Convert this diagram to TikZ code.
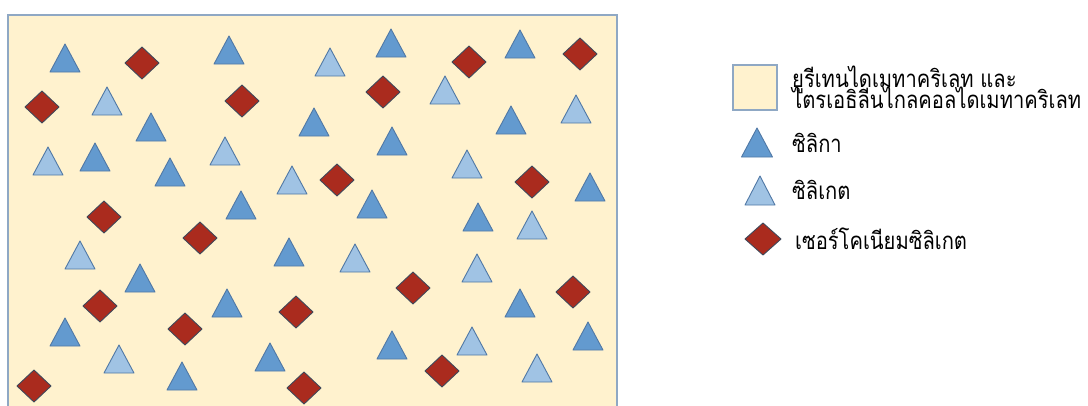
\documentclass[tikz,border=0pt]{standalone}
\usepackage{fontspec}
\newfontfamily\thaifont[Script=Thai, FakeStretch=0.84]{Loma}
\newcommand\legendfont{\thaifont\fontsize{24}{21}\selectfont\lineskiplimit=-30pt\relax}
\definecolor{matrixfill}{RGB}{255,242,206}
\definecolor{matrixline}{RGB}{143,168,196}
\definecolor{silicafill}{RGB}{99,154,207}
\definecolor{silicateline}{RGB}{80,120,165}
\definecolor{silicatefill}{RGB}{160,195,228}
\definecolor{zirconfill}{RGB}{170,43,30}
\definecolor{zirconline}{RGB}{62,72,90}
\begin{document}
\begin{tikzpicture}[x=1pt, y=-1pt,
    matrixbox/.style={draw=matrixline, line width=2pt, fill=matrixfill},
    silica/.style={draw=silicateline, line width=0.9pt, fill=silicafill, line join=round},
    silicate/.style={draw=silicateline, line width=0.9pt, fill=silicatefill, line join=round},
    zircon/.style={draw=zirconline, line width=0.9pt, fill=zirconfill, line join=round},
    legendtext/.style={anchor=west, inner sep=0pt, align=left, font=\legendfont}]
    \useasboundingbox (0,0) rectangle (1088,405);

    \draw[matrixbox] (8,15) rectangle (617,410);

    \foreach \x/\y in {65/44, 229/36, 151/113, 95/143, 170/158, 314/108, 391/29, 520/30,
        392/127, 511/106, 590/173, 241/191, 372/190, 478/203, 289/238, 140/264,
        227/289, 65/318, 182/362, 270/343, 520/289, 392/331, 588/322}
        \draw[silica] (\x,\y) -- (\x+15,\y+28) -- (\x-15,\y+28) -- cycle;

    \foreach \x/\y in {107/87, 48/147, 225/137, 292/166, 330/48, 445/76, 576/95, 467/150,
        80/241, 119/345, 355/244, 532/211, 477/254, 472/327, 537/354}
        \draw[silicate] (\x,\y) -- (\x+15,\y+28) -- (\x-15,\y+28) -- cycle;

    \foreach \x/\y in {142/63, 42/107, 242/101, 469/62, 580/54, 383/92, 337/180, 532/182,
        104/217, 200/238, 100/306, 185/329, 296/312, 34/386, 304/388, 413/288,
        573/292, 442/371}
        \draw[zircon] (\x-17,\y) -- (\x,\y-16) -- (\x+17,\y) -- (\x,\y+16) -- cycle;

    \draw[matrixbox, line width=1.5pt] (733,65) rectangle (777,110);
    \draw[silica] (757,128) -- (772.5,157) -- (741.5,157) -- cycle;
    \draw[silicate] (760,176) -- (775,205) -- (745,205) -- cycle;
    \draw[zircon] (745,239) -- (763,223) -- (781,239) -- (763,255) -- cycle;

    \node[legendtext] (resin) at (792,87) {ยูรีเทนไดเมทาคริเลท และ\\ไตรเอธิลีนไกลคอลไดเมทาคริเลท};
    \node[legendtext] (silicatxt) at (792,143) {ซิลิกา};
    \node[legendtext] (silicatetxt) at (792,190) {ซิลิเกต};
    \node[legendtext] (zircontxt) at (795,239) {เซอร์โคเนียมซิลิเกต};
\end{tikzpicture}
\end{document}
